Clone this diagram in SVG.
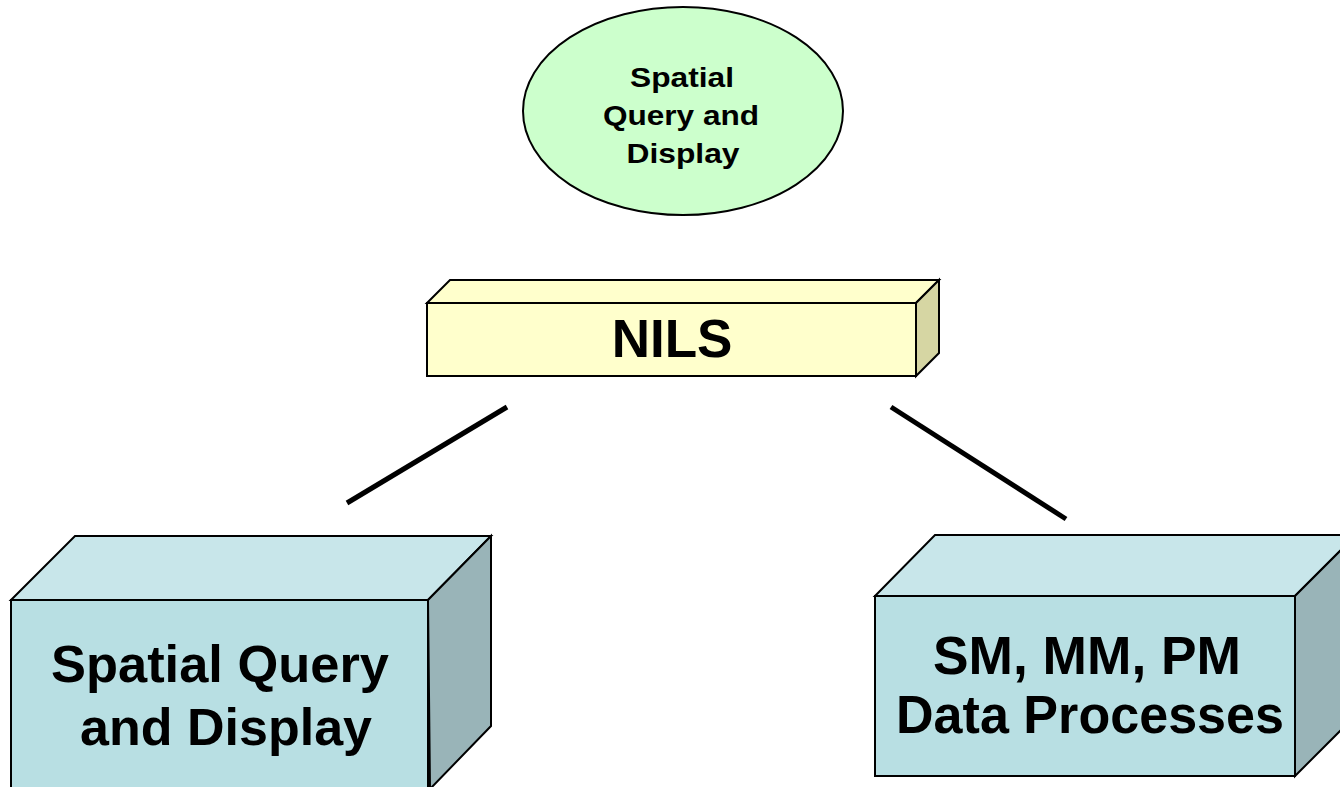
<svg xmlns="http://www.w3.org/2000/svg" width="1340" height="787" viewBox="0 0 1340 787">
<style>
.t{font-family:"Liberation Sans",Arial,sans-serif;font-weight:bold;fill:#000;text-anchor:middle}
.e{stroke:#000;stroke-width:2;stroke-linejoin:miter}
.c{stroke:#000;stroke-width:5;fill:none}
</style>
<rect width="1340" height="787" fill="#fff"/>
<g id="top-ellipse">
<ellipse class="e" cx="683" cy="111" rx="160" ry="104" fill="#ccffcc"/>
<text class="t" font-size="28" lengthAdjust="spacingAndGlyphs"><tspan x="682" y="87" textLength="104" lengthAdjust="spacingAndGlyphs">Spatial</tspan><tspan x="681" y="125" textLength="156" lengthAdjust="spacingAndGlyphs">Query and</tspan><tspan x="683" y="163" textLength="113" lengthAdjust="spacingAndGlyphs">Display</tspan></text>
</g>
<g id="nils">
<polygon class="e" points="427,303 450,280 939,280 916,303" fill="#ffffcc"/>
<polygon class="e" points="916,303 939,280 939,353 916,376" fill="#d6d6a3"/>
<rect class="e" x="427" y="303" width="489" height="73" fill="#ffffcc"/>
<text class="t" x="672" y="357" font-size="53">NILS</text>
</g>
<g id="connectors">
<line class="c" x1="507" y1="407" x2="347" y2="503"/>
<line class="c" x1="891" y1="407" x2="1066" y2="519"/>
</g>
<g id="left-box">
<polygon class="e" points="11,600 75,536 491,536 428,600" fill="#c8e6ea"/>
<polygon class="e" points="428,600 491,536 491,726 430,789" fill="#99b4b8"/>
<rect class="e" x="11" y="600" width="417" height="200" fill="#b8dfe3"/>
<text class="t" font-size="52"><tspan x="220" y="682" textLength="338" lengthAdjust="spacingAndGlyphs">Spatial Query</tspan><tspan x="226" y="745" textLength="292" lengthAdjust="spacingAndGlyphs">and Display</tspan></text>
</g>
<g id="right-box">
<polygon class="e" points="875,596 935,535 1356,535 1295,596" fill="#c8e6ea"/>
<polygon class="e" points="1295,596 1356,535 1356,715 1295,776" fill="#99b4b8"/>
<rect class="e" x="875" y="596" width="420" height="180" fill="#b8dfe3"/>
<text class="t" font-size="53"><tspan x="1087" y="674" textLength="308" lengthAdjust="spacingAndGlyphs">SM, MM, PM</tspan><tspan x="1090" y="733" textLength="388" lengthAdjust="spacingAndGlyphs">Data Processes</tspan></text>
</g>
</svg>
